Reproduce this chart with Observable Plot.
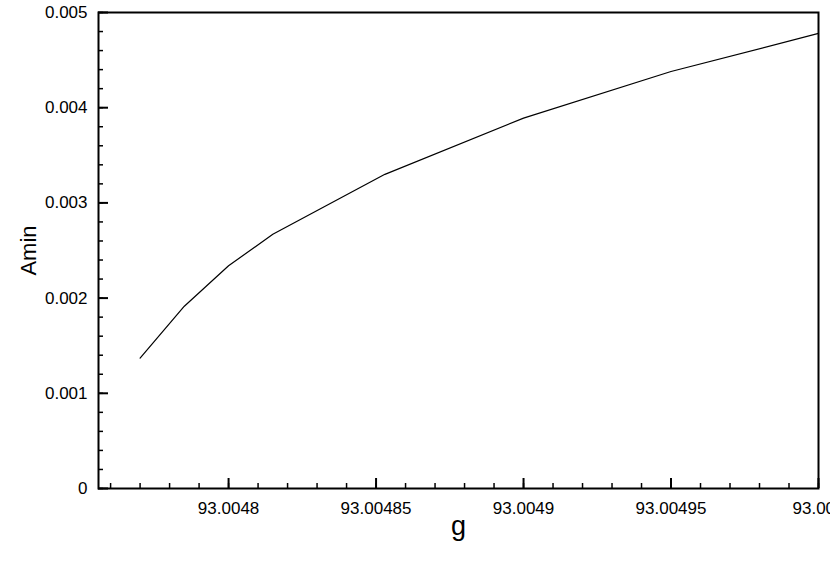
<!DOCTYPE html>
<html>
<head>
<meta charset="utf-8">
<script src="https://cdn.jsdelivr.net/npm/d3@7"></script>
<script src="https://cdn.jsdelivr.net/npm/@observablehq/plot@0.6"></script>
<style>
  html, body { margin: 0; padding: 0; background: white; }
</style>
</head>
<body>
<div id="chart"></div>
<script>
// Data
const gValues = [93.00477, 93.004785, 93.0048, 93.004815, 93.004853, 93.0049, 93.00495, 93.005];
const aminValues = [0.00137, 0.001915, 0.00234, 0.00267, 0.0033, 0.00389, 0.00438, 0.00478];

// Axis ticks and labels
const xMajorTicks = [93.0048, 93.00485, 93.0049, 93.00495, 93.005];
const xTickLabels = ["93.0048", "93.00485", "93.0049", "93.00495", "93.005"];
const yMajorTicks = [0, 0.001, 0.002, 0.003, 0.004, 0.005];
const yTickLabels = ["0", "0.001", "0.002", "0.003", "0.004", "0.005"];
const xDomain = [93.0047559, 93.005];
const yDomain = [0, 0.005];

const xMinorTicks = d3.range(0, 25).map(k => +(93.00476 + k * 0.00001).toFixed(5));
const yMinorTicks = d3.range(0, 26).map(k => +(k * 0.0002).toFixed(4));

const data = gValues.map((g, i) => ({g, amin: aminValues[i]}));

const font = "'Liberation Sans', Arial, Helvetica, sans-serif";

const chart = Plot.plot({
  width: 830,
  height: 586,
  marginLeft: 98,
  marginRight: 12,
  marginTop: 12,
  marginBottom: 98,
  x: {domain: xDomain, label: null},
  y: {domain: yDomain, label: null},
  style: {fontFamily: font, fontSize: "17px", background: "white", color: "black"},
  marks: [
    Plot.axisX(xMinorTicks, {tickSize: -5, tickFormat: () => "", label: null, strokeWidth: 1.5}),
    Plot.axisX(xMajorTicks, {tickSize: -10, tickPadding: 23, label: null, strokeWidth: 2, fontSize: 17,
      tickFormat: d => xTickLabels[xMajorTicks.indexOf(d)]}),
    Plot.axisY(yMinorTicks, {tickSize: -5, tickFormat: () => "", label: null, strokeWidth: 1.5}),
    Plot.axisY(yMajorTicks, {tickSize: -10, tickPadding: 21, label: null, strokeWidth: 2, fontSize: 17,
      tickFormat: d => yTickLabels[yMajorTicks.indexOf(d)]}),
    Plot.frame({strokeWidth: 2, stroke: "black"}),
    Plot.line(data, {x: "g", y: "amin", stroke: "black", strokeWidth: 1.2}),
    Plot.text(["g"], {frameAnchor: "bottom", textAnchor: "middle", lineAnchor: "top", dy: 27, fontSize: 27, fill: "black"}),
    Plot.text(["Amin"], {frameAnchor: "left", textAnchor: "middle", rotate: -90, dx: -70, fontSize: 22, fill: "black"})
  ]
});

document.getElementById("chart").append(chart);
</script>
</body>
</html>
